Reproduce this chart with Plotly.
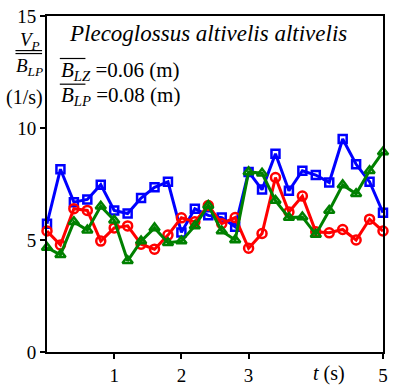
import plotly.graph_objects as go

t = [round(0.2 * i, 1) for i in range(26)]
blue = [5.73, 8.16, 6.69, 6.81, 7.47, 6.32, 6.18, 6.87, 7.35, 7.60, 5.34, 6.40, 6.10,
        6.00, 5.59, 8.04, 7.25, 8.85, 7.20, 8.09, 7.90, 7.57, 9.51, 8.38, 7.60, 6.22]
red = [5.40, 4.78, 6.40, 6.32, 4.95, 5.54, 5.63, 4.81, 4.59, 5.22, 5.99, 5.81, 6.54,
       5.73, 6.00, 4.63, 5.29, 7.79, 6.25, 6.96, 5.37, 5.32, 5.47, 5.00, 5.93, 5.40]
green = [4.66, 4.34, 5.81, 5.44, 6.51, 5.88, 4.07, 4.95, 5.54, 4.88, 4.95, 5.63, 6.54,
         5.40, 5.00, 8.04, 7.98, 6.76, 6.00, 6.03, 5.25, 6.32, 7.46, 7.06, 8.09, 8.93]

x_ticks = [1, 2, 3, 5]
y_ticks = [0, 5, 10, 15]

FONT = "Liberation Serif"

L, R, T, B = 47, 6, 15, 37
W, H = 394, 392
PW, PH = W - L - R, H - T - B


def px(x):
    return (x - L) / PW


def py(y):
    return (H - B - y) / PH


fig = go.Figure()
series = [
    (blue, "#0000ff", "square-open", 8),
    (red, "#ff0000", "circle-open", 9),
    (green, "#008000", "triangle-up-open", 9),
]
for vals, col, sym, sz in series:
    fig.add_trace(go.Scatter(
        x=t, y=vals, mode="lines+markers",
        line=dict(color=col, width=3),
        marker=dict(symbol=sym, size=sz, color=col, line=dict(color=col, width=2.5)),
        showlegend=False, cliponaxis=False,
    ))

fig.update_layout(
    width=W, height=H,
    margin=dict(l=L, r=R, t=T, b=B),
    paper_bgcolor="white", plot_bgcolor="white",
    font=dict(family=FONT, size=19, color="black"),
    xaxis=dict(range=[0, 5], tickvals=x_ticks, ticktext=[str(v) for v in x_ticks],
               showgrid=False, zeroline=False, showline=True, linecolor="black",
               linewidth=2, mirror=True, ticks="outside", ticklen=5, tickwidth=2,
               tickcolor="black", tickfont=dict(family=FONT, size=19)),
    yaxis=dict(range=[0, 15], tickvals=y_ticks, ticktext=[str(v) for v in y_ticks],
               showgrid=False, zeroline=False, showline=True, linecolor="black",
               linewidth=2, mirror=True, ticks="outside", ticklen=5, tickwidth=2,
               tickcolor="black", tickfont=dict(family=FONT, size=19)),
)

ann = [
    dict(x=67, y=33, text="<i>Plecoglossus altivelis altivelis</i>", size=23, xanchor="left"),
    dict(x=59, y=71, text="<i>B<sub>LZ</sub></i> =0.06 (m)", size=21, xanchor="left"),
    dict(x=59, y=96, text="<i>B<sub>LP</sub></i> =0.08 (m)", size=21, xanchor="left"),
    dict(x=30, y=40, text="<i>V<sub>P</sub></i>", size=19, xanchor="center"),
    dict(x=29, y=67, text="<i>B<sub>LP</sub></i>", size=19, xanchor="center"),
    dict(x=24, y=97, text="(1/s)", size=20, xanchor="center"),
    dict(x=333, y=377, text="<i>t</i> (s)", size=20, xanchor="center"),
]
for a in ann:
    fig.add_annotation(
        x=px(a["x"]), y=py(a["y"]), xref="paper", yref="paper",
        text=a["text"], showarrow=False, xanchor=a["xanchor"], yanchor="middle",
        font=dict(family=FONT, size=a["size"], color="black"),
    )

lines = [
    (60, 58, 86, 58),
    (60, 84, 86, 84),
    (15, 50, 42, 50),
    (15, 53, 42, 53),
]
for x0, y0, x1, y1 in lines:
    fig.add_shape(type="line", xref="paper", yref="paper",
                  x0=px(x0), x1=px(x1), y0=py(y0), y1=py(y1),
                  line=dict(color="black", width=1.2))

fig.write_html("out.html")
